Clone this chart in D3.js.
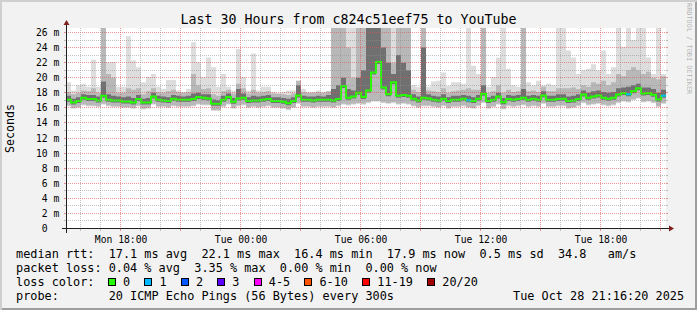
<!DOCTYPE html>
<html lang="en">
<head>
<meta charset="UTF-8">
<title>Last 30 Hours from c824c51eef75 to YouTube</title>
<style>
    *{box-sizing:border-box;}
    body{margin:0;background:#f2f2f2;}
    #main{width:697px;height:310px;}
    svg{display:block;font-family:"DejaVu Sans Mono",monospace;}
    text{white-space:pre;}
</style>
</head>
<body>
<div id="main"></div>
<script src="https://d3js.org/d3.v7.min.js"></script>
<script>
/*===========1-data===========*/
/* one value per 15 minute bin, 120 bins = 30 hours, ms */
const medianMs=[
17.08,16.72,16.9,17.34,17.17,17.17,16.99,17.61,17.08,16.99,
16.99,16.86,16.86,16.72,17.17,16.72,16.72,17.52,17.08,16.99,
16.9,17.21,17.08,17.08,17.08,17.17,17.43,17.34,17.26,16.54,
16.54,17.08,17.43,16.81,17.26,17.34,16.9,16.99,16.99,17.08,
17.17,16.9,16.9,16.81,16.63,16.9,17.65,17.08,17.08,16.99,
17.08,17.08,17.08,16.99,17.17,18.9,17.34,17.5,18.0,17.43,
18.3,20.7,22.1,18.7,17.8,19.4,17.6,17.7,17.6,17.2,
16.99,17.34,17.26,17.08,16.99,17.2,16.9,17.08,17.08,17.2,
17.0,16.9,17.21,17.87,16.9,17.08,17.52,16.76,17.17,17.08,
17.17,17.34,17.08,17.21,17.08,17.65,17.08,17.08,17.17,17.21,
16.9,16.99,17.17,17.78,17.34,17.52,17.65,17.34,17.21,17.34,
17.78,17.96,17.8,18.2,18.6,17.9,17.96,17.74,17.1,17.6]

/* lost pings (of 20) per bin */
const lossCount=[
0,0,0,0,0,0,0,0,0,0,0,0,0,0,0,0,0,0,0,0,
0,0,0,0,0,0,0,0,0,0,0,0,0,0,0,0,0,0,0,0,
0,0,0,0,0,0,0,0,0,0,0,0,0,0,0,0,0,0,0,0,
0,0,0,0,0,0,0,0,0,0,0,0,0,0,0,0,0,0,0,0,
1,0,0,0,0,0,0,0,0,0,0,0,0,0,0,0,0,0,0,0,
0,0,0,0,0,0,0,0,0,0,0,0,1,0,0,0,0,0,0,1]

/* smoke: lowest ping, and upper edges of the dark / mid / light bands */
const smokeLo=[
16.2,15.9,16.0,16.3,16.2,16.2,16.1,16.4,16.2,16.1,
16.1,16.0,16.0,15.9,16.2,15.8,15.9,16.4,16.1,16.1,
16.0,16.2,16.1,16.1,16.1,16.2,16.4,16.3,16.3,15.6,
15.6,16.1,16.4,15.9,16.2,16.3,16.0,16.1,16.0,16.1,
16.2,16.0,16.0,15.9,15.7,16.0,16.5,16.1,16.1,16.0,
16.1,16.1,16.1,16.0,16.2,16.4,16.3,16.4,16.5,16.4,
16.6,16.8,16.8,16.6,16.5,16.6,16.4,16.5,16.4,16.2,
16.0,16.2,16.2,16.1,16.0,16.2,15.9,16.1,16.1,16.2,
16.0,15.9,16.2,16.6,15.9,16.1,16.4,15.8,16.2,16.1,
16.2,16.3,16.1,16.2,16.1,16.5,16.1,16.1,16.2,16.2,
15.9,16.0,16.2,16.6,16.3,16.4,16.5,16.3,16.2,16.3,
16.6,16.8,16.7,17.0,17.2,16.7,16.8,16.6,16.1,16.5]

const smokeDark=[
17.6,17.2,17.4,17.8,17.7,17.7,17.5,19.5,17.8,17.6,
17.5,17.4,17.5,17.3,17.7,17.2,17.3,18.0,17.6,17.5,
17.4,17.7,17.6,17.5,17.6,17.9,18.0,17.8,17.8,17.1,
17.0,17.6,17.9,17.3,18.5,17.9,17.4,17.6,17.5,17.6,
17.7,17.4,17.4,17.3,17.2,17.4,19.0,17.6,17.5,17.5,
17.6,17.5,17.7,18.5,19.0,20.0,18.5,18.3,20.0,21.0,
27,27,27,24,22,20.5,23,22,21,17.8,
17.5,24,17.8,17.6,17.5,17.8,17.4,17.6,17.6,17.7,
17.6,17.4,17.7,19.0,17.4,17.6,18.0,17.3,17.7,17.6,
17.7,18.5,17.6,17.7,17.6,18.2,17.6,17.6,17.8,17.8,
17.5,17.6,17.8,18.3,18.0,18.2,18.3,18.1,18.0,18.1,
18.6,18.7,18.8,19.0,19.2,18.7,18.7,18.5,18.0,18.4]

const smokeMid=[
18.1,17.8,18.0,18.3,18.2,18.6,18.0,26.6,20.5,20.0,
18.0,18.0,18.6,18.4,18.6,17.8,18.2,18.6,18.1,18.0,
18.2,18.4,18.1,18.0,18.1,20.5,19.0,18.5,18.6,17.8,
17.6,18.2,18.4,17.9,19.2,18.6,17.9,18.4,18.0,18.1,
18.2,17.9,17.9,17.8,17.7,17.9,19.6,18.1,18.0,18.0,
18.1,18.0,18.2,27,27,27,24,20,27,27,
27,27,27,27,27,22,27,27,27,18.4,
18.1,27,18.3,18.2,18.1,18.6,18.0,18.2,18.3,18.4,
18.6,18.4,18.4,27,18.0,18.2,19.0,18.0,18.4,18.1,
18.2,27,18.2,18.3,18.1,18.8,18.2,18.2,18.6,18.6,
18.6,18.7,18.5,19.0,18.8,19.4,19.2,19.6,19.0,19.4,
20.5,20.2,21.0,21.4,21.0,20.5,20.8,20.0,19.8,20.2]

const smokeHigh=[
19.4,18.3,19.0,19.2,18.8,22.4,18.8,26.6,22.1,22.1,
18.8,18.8,25.5,22.3,21.4,19.4,20.1,20.5,18.8,18.5,
19.7,19.7,18.3,18.1,18.5,24.7,22.1,20.1,22.7,21.4,
18.8,20.5,18.8,18.3,23.8,20.1,18.3,23.2,18.3,18.8,
18.8,18.1,17.9,18.1,18.3,18.3,19.6,18.5,18.1,18.1,
18.3,18.1,18.1,27,27,27,27,27,27,27,
27,27,27,27,27,27,27,27,27,19.0,
18.8,27,18.8,19.5,19.6,20.7,18.9,19.4,19.4,19.2,
27,21.6,20.5,27,18.8,20.1,22.7,27,21.2,19.0,
18.8,27,19.4,19.0,19.6,19.0,19.2,19.0,27,27,
23.6,22.7,20.5,21.0,21.2,21.8,21.0,23.6,20.5,21.4,
27,24.1,27,25.0,27,27,22.7,20.5,27,20.5]

/* axis labels */
const yTickValues=[0,2,4,6,8,10,12,14,16,18,20,22,24,26]
const yTickLabels=['0','2','4','6','8','10','12','14','16','18','20','22','24','26']
const xTickFormat='%a %H:%M'

/* legend */
const lossLabels=['0','1','2','3','4-5','6-10','11-19','20/20']
const lossColors=['#26ff00','#00b8ff','#0059ff','#5e00ff','#ff00ff','#ff5500','#ff0000','#a10000']
const rttLine='median rtt:  17.1 ms avg  22.1 ms max  16.4 ms min  17.9 ms now  0.5 ms sd  34.8   am/s'
const lossLine='packet loss: 0.04 % avg  3.35 % max  0.00 % min  0.00 % now'
const probeLine='probe:       20 ICMP Echo Pings (56 Bytes) every 300s'
const stampLine='Tue Oct 28 21:16:20 2025'
const titleText='Last 30 Hours from c824c51eef75 to YouTube'

/*===========2-container===========*/
const width=697
const height=310
const svg=d3.select('#main').append('svg')
    .attr('width',width)
    .attr('height',height)
    .attr('viewBox',`0 0 ${width} ${height}`)

/* frame: light shade top/left, dark shade bottom/right */
svg.append('rect').attr('width',width).attr('height',height).attr('fill','#f2f2f2')
svg.append('path').attr('fill','#cfcfcf')
    .attr('d',`M0,0H${width}V2H2V${height}H0Z`)
svg.append('path').attr('fill','#9e9e9e')
    .attr('d',`M${width},${height}H2V${height-2}H${width-2}V2H${width}Z`)

/*===========3-scales===========*/
const X0=66, X1=666, Y0=228.5, YTOP=28
const tStart=new Date(2025,9,27,15,16,20)
const tEnd=new Date(2025,9,28,21,16,20)
const x=d3.scaleTime().domain([tStart,tEnd]).range([X0,X1])
const y=d3.scaleLinear().domain([0,26]).range([Y0,32.5])

const bins=medianMs.map((m,i)=>({
    t:d3.timeMinute.offset(tStart,15*i),
    med:m, loss:lossCount[i],
    lo:smokeLo[i], dark:smokeDark[i], mid:smokeMid[i], high:smokeHigh[i]
}))
/* closing point so the last step reaches the right edge */
const stepData=bins.concat([Object.assign({},bins[bins.length-1],{t:tEnd})])

/* canvas */
svg.append('rect').attr('x',X0).attr('y',YTOP).attr('width',X1-X0).attr('height',Y0-YTOP).attr('fill','#ffffff')
svg.append('clipPath').attr('id','plotClip')
    .append('rect').attr('x',X0).attr('y',YTOP).attr('width',X1-X0).attr('height',Y0-YTOP)

/*===========4-smoke + median===========*/
const plot=svg.append('g').attr('clip-path','url(#plotClip)')
/* light and mid bands start at the lowest ping, the dark core starts just under the median */
const layers=[
    {key:'high',color:'#dddddd',base:d=>y(d.lo)},
    {key:'mid',color:'#b8b8b8',base:d=>y(d.lo)-1},
    {key:'dark',color:'#707070',base:d=>y(d.med)+2}
]
layers.forEach(L=>{
    const area=d3.area()
        .curve(d3.curveStepAfter)
        .x(d=>x(d.t))
        .y0(L.base)
        .y1(d=>y(d[L.key]))
    plot.append('path').datum(stepData).attr('d',area).attr('fill',L.color)
})

const medLine=d3.line().curve(d3.curveStepAfter).x(d=>x(d.t)).y(d=>y(d.med))
plot.append('path').datum(stepData).attr('d',medLine)
    .attr('fill','none').attr('stroke',lossColors[0]).attr('stroke-width',2)
/* bins with loss get the loss colour */
plot.selectAll('line.loss').data(bins.filter(d=>d.loss>0)).join('line')
    .attr('class','loss')
    .attr('x1',d=>x(d.t)).attr('x2',d=>x(d3.timeMinute.offset(d.t,15)))
    .attr('y1',d=>y(d.med)).attr('y2',d=>y(d.med))
    .attr('stroke',d=>lossColors[d.loss]).attr('stroke-width',2)

/*===========5-grid===========*/
const crisp=v=>Math.floor(v)+0.5
const minorColor='rgba(143,143,143,0.55)'
const majorColor='rgba(222,79,79,0.6)'
const grid=svg.append('g').attr('shape-rendering','crispEdges')

d3.range(1,27).forEach(v=>{
    const yy=crisp(y(v))
    const c=v%2===0?majorColor:minorColor
    grid.append('line').attr('x1',X0).attr('x2',X1).attr('y1',yy).attr('y2',yy)
        .attr('stroke',c).attr('stroke-dasharray','1,1')
    grid.append('line').attr('x1',X0-2).attr('x2',X0).attr('y1',yy).attr('y2',yy).attr('stroke',c)
    grid.append('line').attr('x1',X1).attr('x2',X1+2).attr('y1',yy).attr('y2',yy).attr('stroke',c)
})
x.ticks(d3.timeHour.every(1)).forEach(t=>{
    const xx=crisp(x(t))
    const c=t.getHours()%3===0?majorColor:minorColor
    grid.append('line').attr('x1',xx).attr('x2',xx).attr('y1',YTOP).attr('y2',Y0)
        .attr('stroke',c).attr('stroke-dasharray','1,1')
    grid.append('line').attr('x1',xx).attr('x2',xx).attr('y1',Y0).attr('y2',Y0+2).attr('stroke',c)
})

/*===========6-axes===========*/
const axisColor='#1f1f1f'
const arrowColor='#801f1f'
svg.append('line').attr('x1',X0-4).attr('x2',X1+4).attr('y1',Y0).attr('y2',Y0)
    .attr('stroke',axisColor).attr('shape-rendering','crispEdges')
svg.append('line').attr('x1',X0+0.5).attr('x2',X0+0.5).attr('y1',Y0+4).attr('y2',YTOP-4)
    .attr('stroke',axisColor).attr('shape-rendering','crispEdges')
svg.append('path').attr('fill',arrowColor)
    .attr('d',`M${X1+3},${Y0-3}L${X1+8},${Y0}L${X1+3},${Y0+3}Z`)
svg.append('path').attr('fill',arrowColor)
    .attr('d',`M${X0-2.5},${YTOP-3}L${X0+0.5},${YTOP-8}L${X0+3.5},${YTOP-3}Z`)

/* y labels: number right aligned, unit after it */
const yLab=svg.append('g').attr('font-size','9.7px').attr('fill','#000')
yTickValues.forEach((v,i)=>{
    const yy=y(v)+3.5
    yLab.append('text').attr('x',47.7).attr('y',yy).attr('text-anchor','end').text(yTickLabels[i])
    if(v!==0) yLab.append('text').attr('x',53.6).attr('y',yy).text('m')
})

/* x labels through the d3 axis generator */
const xAxisGenerator=d3.axisBottom(x)
    .ticks(d3.timeHour.every(6))
    .tickFormat(d3.timeFormat(xTickFormat))
    .tickSize(0)
const xAxisG=svg.append('g').attr('transform',`translate(0,${Y0})`).call(xAxisGenerator)
xAxisG.select('.domain').remove()
xAxisG.selectAll('text')
    .attr('y',14.5).attr('dy',null)
    .style('font-size','9.7px')
    .style('font-family','"DejaVu Sans Mono",monospace')
    .attr('fill','#000')

/*===========7-texts===========*/
svg.append('text').attr('x',width/2).attr('y',24).attr('text-anchor','middle')
    .attr('font-size','13.3px').text(titleText)

svg.append('text').attr('transform','translate(14,128.5) rotate(-90)')
    .attr('text-anchor','middle').attr('font-size','11.6px').text('Seconds')

svg.append('text').attr('transform','translate(687,3) rotate(90)')
    .attr('font-size','6.9px').attr('fill','rgba(0,0,0,0.3)').text('RRDTOOL / TOBI OETIKER')

const legend=svg.append('g').attr('font-size','11.85px').attr('fill','#000')
legend.append('text').attr('x',16).attr('y',258).text(rttLine)
legend.append('text').attr('x',16).attr('y',272).text(lossLine)
legend.append('text').attr('x',16).attr('y',286).text('loss color:')
legend.append('text').attr('x',16).attr('y',300).text(probeLine)
legend.append('text').attr('x',513).attr('y',300).text(stampLine)

let bx=108
lossLabels.forEach((lab,i)=>{
    legend.append('rect').attr('x',bx+0.5).attr('y',278.5).attr('width',7).attr('height',7)
        .attr('fill',lossColors[i]).attr('stroke','#000').attr('shape-rendering','crispEdges')
    const t=legend.append('text').attr('x',bx+15).attr('y',286).text(lab)
    bx=bx+15+t.node().getComputedTextLength()+14.3
})
</script>
</body>
</html>
